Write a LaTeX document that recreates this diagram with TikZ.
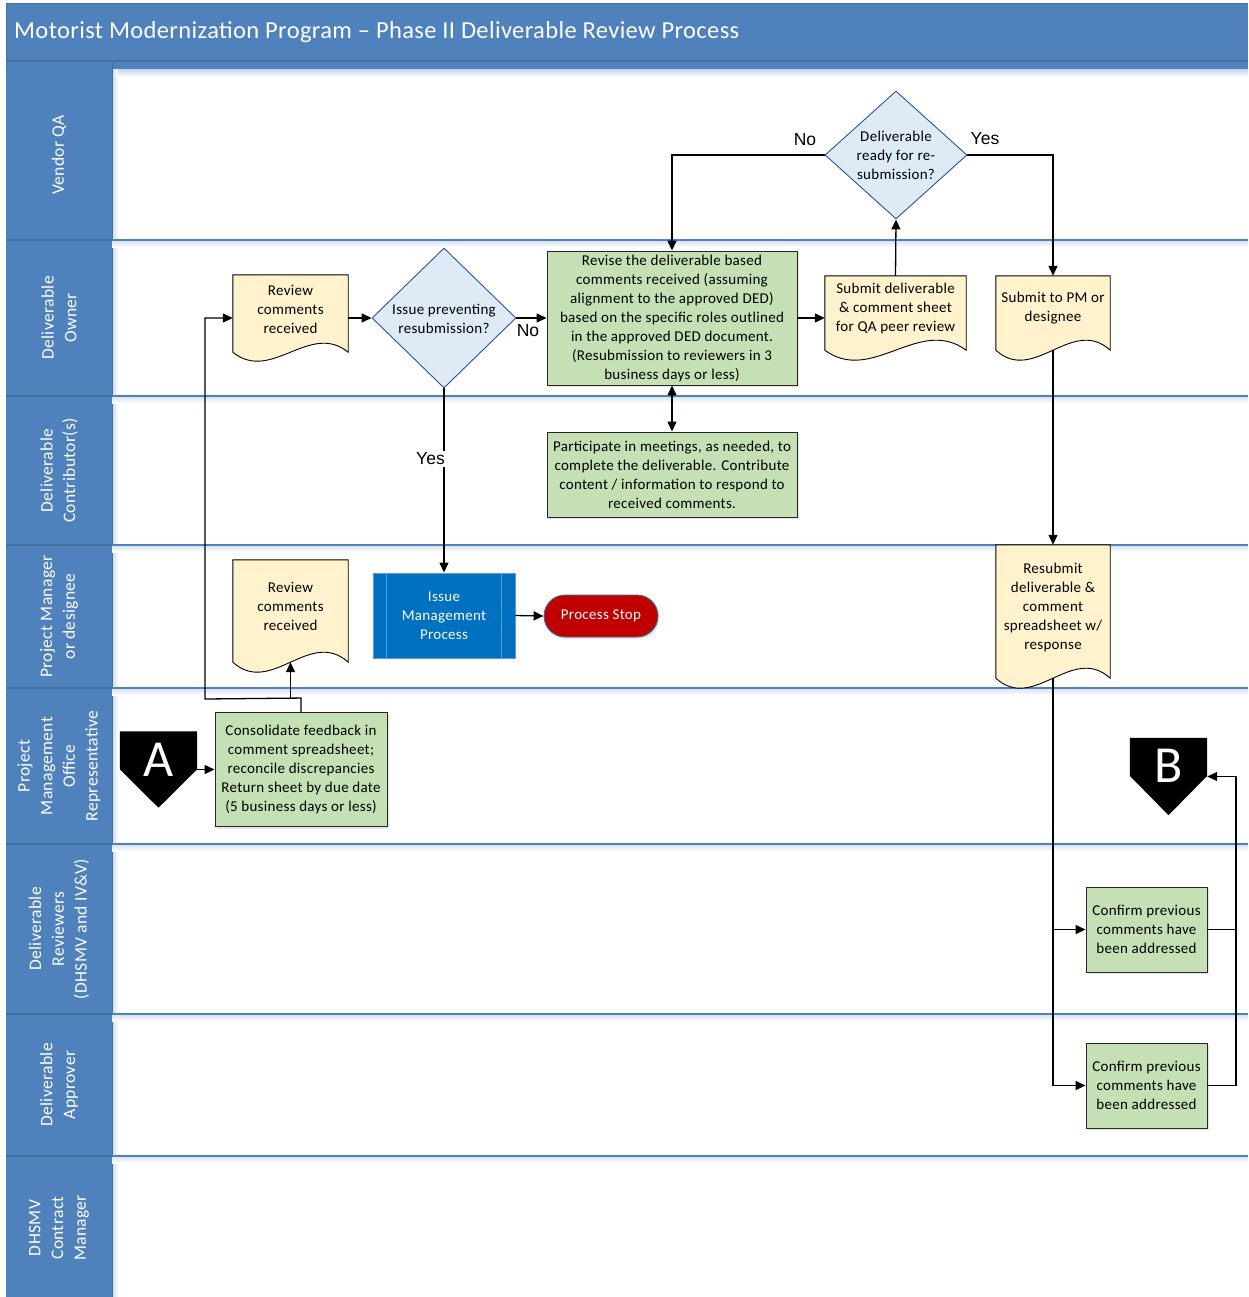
\documentclass[tikz,border=0pt]{standalone}
\usepackage{fontspec}
\setmainfont{Carlito}[LetterSpace=2]
\newfontfamily\titlef{Carlito}[LetterSpace=1.5]
\newfontfamily\arialf{Liberation Sans}
\usetikzlibrary{calc,shadows,arrows.meta,shapes.geometric}
\pgfdeclarelayer{bg}
\pgfdeclarelayer{mid}
\pgfsetlayers{bg,mid,main}
\definecolor{laneblue}{RGB}{79,129,189}
\definecolor{lanedark}{RGB}{65,113,156}
\definecolor{greenf}{RGB}{197,224,180}
\definecolor{docf}{RGB}{255,242,204}
\definecolor{diaf}{RGB}{222,235,247}
\definecolor{diad}{RGB}{47,82,143}
\definecolor{imblue}{RGB}{0,112,192}
\definecolor{imedge}{RGB}{91,155,213}
\definecolor{stopred}{RGB}{192,0,0}
\newcommand{\docbg}[2]{%
\begin{pgfonlayer}{mid}
\filldraw[fill=docf,draw=black,line width=0.9pt] (#1.north west) -- (#1.north east) -- ($(#1.south east)+(0,-#2)$)
 .. controls ($(#1.south east)!0.3333!(#1.south west)+(0,{-#2-3.46*#2})$) and ($(#1.south east)!0.6667!(#1.south west)+(0,{-#2+3.46*#2})$)
 .. ($(#1.south west)+(0,-#2)$) -- cycle;
\end{pgfonlayer}}
\newcommand{\offpage}[1]{%
\begin{pgfonlayer}{mid}
\fill[black] (#1.north west) -- (#1.north east) -- ($(#1.north east)+(0,38)$) -- (#1.south) -- ($(#1.north west)+(0,38)$) -- cycle;
\end{pgfonlayer}}
\tikzset{
 base/.style={font=\fontsize{15}{19}\selectfont, align=center, inner sep=0pt},
 greenbox/.style={base, draw=black!85, fill=greenf, line width=0.9pt,
   drop shadow={opacity=0.2, shadow xshift=1.5pt, shadow yshift=-2pt}},
 docnode/.style={draw=none, inner sep=0pt},
 txt/.style={base},
 dia/.style={diamond, draw=diad, fill=diaf, line width=0.9pt, inner sep=0pt},
 lanelabel/.style={rotate=90, text=white, font=\fontsize{17.5}{22.7}\selectfont, align=center, inner sep=0pt},
 yn/.style={font=\arialf\fontsize{17.5}{20}\selectfont, inner sep=1.5pt},
 arr/.style={-{Triangle[length=10pt,width=9pt]}, line width=1.3pt},
 darr/.style={{Triangle[length=10pt,width=9pt]}-{Triangle[length=10pt,width=9pt]}, line width=1.3pt},
 conn/.style={line width=1.3pt},
 bigletter/.style={text=white, font=\fontsize{52}{52}\selectfont, inner sep=0pt}
}
\begin{document}
\begin{tikzpicture}[x=1pt,y=-1pt]
\useasboundingbox (0,0) rectangle (1248,1297);
\begin{pgfonlayer}{bg}
\fill[white] (0,0) rectangle (1248,1297);
\fill[laneblue] (6,4) rectangle (1248,70);
\draw[lanedark, line width=1pt] (1248,4) -- (6,4) -- (6,1297);
\draw[lanedark, line width=1.2pt] (6,61) -- (1248,61);
\fill[laneblue] (6,70) rectangle (112,1297);
\shade[top color=laneblue!30, bottom color=white] (112,70) rectangle (1248,77);
\shade[left color=laneblue!30, right color=white] (112,70) rectangle (118,1297);
\draw[lanedark, line width=1pt] (112,61) -- (112,1297);
\foreach \yy in {240,396,545,688,844,1014,1156} {
  \shade[top color=laneblue!25, bottom color=white] (112,\yy) rectangle (1248,\yy+7);
  \draw[laneblue, line width=1.2pt] (112,\yy) -- (1248,\yy);
  \draw[lanedark, line width=1.2pt] (6,\yy) -- (112,\yy);
}
\end{pgfonlayer}

% title and lane labels
\node[anchor=west, text=white, font=\titlef\fontsize{24.5}{28}\selectfont, inner sep=0pt] (title) at (14,32) {Motorist Modernization Program – Phase II Deliverable Review Process};
\node[lanelabel] (L1) at (59,155) {Vendor QA};
\node[lanelabel] (L2) at (59,318) {Deliverable\\Owner};
\node[lanelabel] (L3) at (59,470.5) {Deliverable\\Contributor(s)};
\node[lanelabel] (L4) at (59,616.5) {Project Manager\\or designee};
\node[lanelabel] (L5) at (59,766) {Project\\Management\\Office\\Representative};
\node[lanelabel] (L6) at (59,929) {Deliverable\\Reviewers\\(DHSMV and IV\&V)};
\node[lanelabel] (L7) at (59,1085) {Deliverable\\Approver};
\node[lanelabel] (L8) at (59,1228) {DHSMV\\Contract\\Manager};

% document shapes
\node[docnode, minimum width=115, minimum height=86] (rc1) at (290.5,318) {};
\docbg{rc1}{9}
\node[txt] (rc1t) at ($(rc1.center)+(0,-9)$) {Review\\comments\\received};

\node[docnode, minimum width=141, minimum height=84] (sub1) at (895.5,318) {};
\docbg{sub1}{10}
\node[txt] (sub1t) at ($(sub1.center)+(0,-10)$) {Submit deliverable\\\& comment sheet\\for QA peer review};

\node[docnode, minimum width=114, minimum height=84] (pm1) at (1053,318) {};
\docbg{pm1}{10}
\node[txt] (pm1t) at ($(pm1.center)+(0,-9.5)$) {Submit to PM or\\designee};

\node[docnode, minimum width=115, minimum height=112] (rc2) at (290.5,616) {};
\docbg{rc2}{10}
\node[txt] (rc2t) at ($(rc2.center)+(0,-10)$) {Review\\comments\\received};

\node[docnode, minimum width=114, minimum height=143] (res) at (1053,616.5) {};
\docbg{res}{10}
\node[txt] (rest) at ($(res.center)+(0,-9.5)$) {Resubmit\\deliverable \&\\comment\\spreadsheet w/\\response};

% diamonds
\node[dia, minimum width=144, minimum height=140] (d1) at (444,318) {};
\node[txt] (d1t) at (444,318.5) {Issue preventing\\resubmission?};
\node[dia, minimum width=142, minimum height=128] (d2) at (896,155) {};
\node[txt] (d2t) at (896,155) {Deliverable\\ready for re-\\submission?};

% process boxes
\node[greenbox, minimum width=250, minimum height=134] (rev) at (672,318) {Revise the deliverable based\\comments received (assuming\\alignment to the approved DED)\\based on the specific roles outlined\\in the approved DED document.\\(Resubmission to reviewers in 3\\business days or less)};
\node[greenbox, minimum width=250, minimum height=85] (part) at (672,474.5) {Participate in meetings, as needed, to\\complete the deliverable. Contribute\\content / information to respond to\\received comments.};
\node[greenbox, minimum width=172, minimum height=114] (cons) at (301,769.5) {Consolidate feedback in\\comment spreadsheet;\\reconcile discrepancies\\Return sheet by due date\\(5 business days or less)};
\node[greenbox, minimum width=121, minimum height=85] (cf1) at (1146.5,929.5) {Confirm previous\\comments have\\been addressed};
\node[greenbox, minimum width=121, minimum height=85] (cf2) at (1146.5,1085.5) {Confirm previous\\comments have\\been addressed};

\node[base, draw=imedge, fill=imblue, text=white, line width=0.9pt, minimum width=142, minimum height=85] (im) at (444,615.5) {Issue\\Management\\Process};
\draw[imedge, line width=0.9pt] ($(im.north west)+(14,0)$) -- ($(im.south west)+(14,0)$);
\draw[imedge, line width=0.9pt] ($(im.north east)+(-14,0)$) -- ($(im.south east)+(-14,0)$);

\node[base, draw=lanedark, fill=stopred, text=white, line width=0.9pt, rounded corners=21pt, minimum width=114, minimum height=42,
  drop shadow={opacity=0.2, shadow xshift=1.5pt, shadow yshift=-2pt}] (ps) at (601,616) {Process Stop};

% off-page connectors
\node[draw=none, minimum width=77, minimum height=76, inner sep=0pt] (A) at (158.5,769.5) {};
\offpage{A}
\node[bigletter] (At) at (158.5,759.5) {A};
\node[draw=none, minimum width=77, minimum height=77, inner sep=0pt] (B) at (1168.5,776.5) {};
\offpage{B}
\node[bigletter] (Bt) at (1168.5,766) {B};

% connectors
\coordinate (j1) at ($(cons.north)+(0,-14)$);
\coordinate (j2) at (205,699);
\draw[arr] (cons.north) -- (j1) -- (j2) |- (rc1.west);
\draw[arr] (j1 -| rc2.south) -- ($(rc2.south)+(0,-10)$);
\draw[arr] (A.east) -- (A.east -| cons.west);
\draw[arr] (rc1.east) -- (d1.west);
\draw[arr] (d1.east) -- (rev.west);
\node[yn] (no1) at (528,331) {No};
\draw[arr] (d1.south) -- (im.north);
\node[yn, fill=white] (yes1) at (430.5,459) {Yes};
\draw[arr] (im.east) -- (ps.west);
\draw[arr] (rev.east) -- (sub1.west);
\draw[darr] (rev.south) -- (part.north);
\draw[arr] (sub1.north) -- (d2.south);
\draw[arr] (d2.west) -| (rev.north);
\node[yn] (no2) at (805,140) {No};
\draw[arr] (d2.east) -| (pm1.north);
\node[yn] (yes2) at (985,139) {Yes};
\draw[arr] ($(pm1.south)+(0,-10)$) -- (res.north);
\draw[arr] ($(res.south)+(0,-10)$) |- (cf2.west);
\draw[arr] (res.south |- cf1.west) -- (cf1.west);
\coordinate (rt) at (1236,929.5);
\draw[conn] (cf1.east) -- (rt);
\draw[arr] (cf2.east) -- (cf2.east -| rt) |- (B.east);
\end{tikzpicture}
\end{document}
